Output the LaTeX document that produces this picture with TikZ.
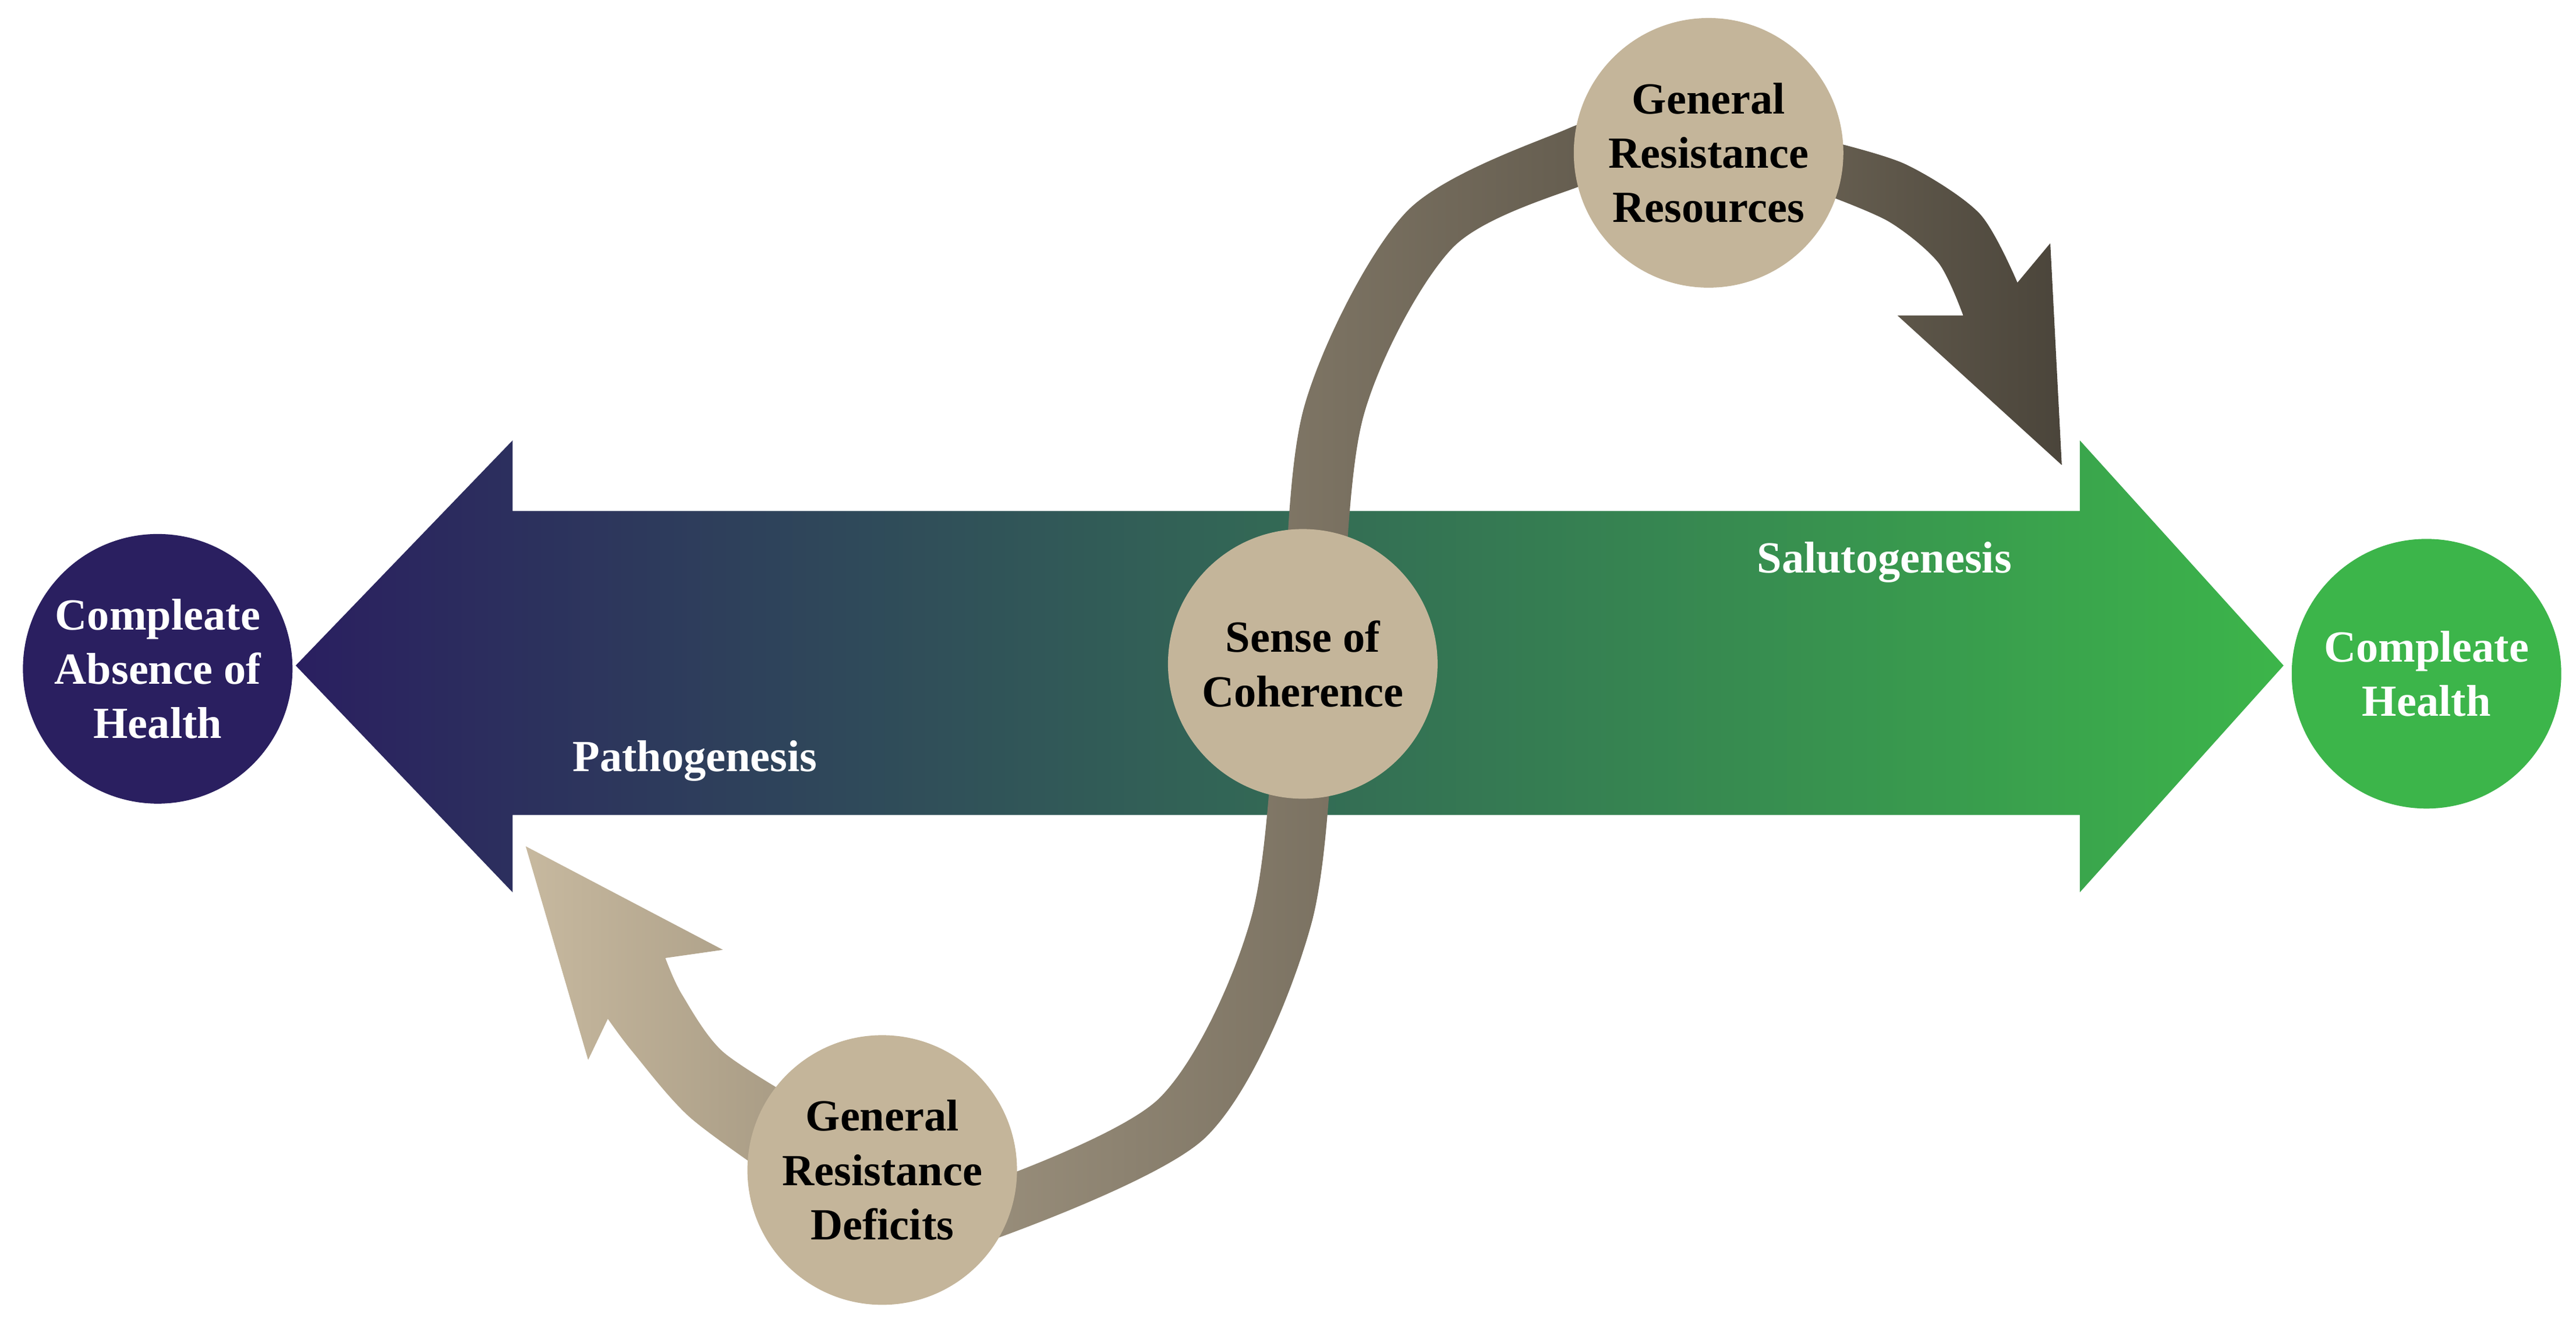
\documentclass[tikz,border=0pt]{standalone}
\usepackage{fontspec}
\setmainfont{Liberation Serif}
\begin{document}
\begin{tikzpicture}[x=0.01cm,y=-0.01cm,
  circ/.style={circle,minimum size=1.64cm,inner sep=0pt,align=center,font=\bfseries\fontsize{7.7}{9.4}\selectfont},
  tan/.style={circ,fill=tanc,text=black},
  lab/.style={text=white,font=\bfseries\fontsize{7.7}{9.4}\selectfont}]
\definecolor{navy}{HTML}{2A1F60}
\definecolor{teal}{HTML}{266262}
\definecolor{grn}{HTML}{3CB54A}
\definecolor{tanc}{HTML}{C4B59A}
\useasboundingbox (0,0) rectangle (1568,802);
% main double arrow
\shade[left color=navy,middle color=teal,right color=grn]
  (180,405) -- (312,268) -- (312,311) -- (1266,311) -- (1266,268) -- (1390,405)
  -- (1266,543) -- (1266,496) -- (312,496) -- (312,543) -- cycle;
% S band
\shade[left color=tanc!75!black!95,right color=tanc!50!black]
  plot[smooth] coordinates {(600,720) (706,668) (762,557) (779,399) (794,247) (856,129) (955,78) (985,72)}
  -- plot[smooth] coordinates {(985,108) (965,112) (884,151) (830,253) (815,401) (798,563) (734,692) (600,756)} -- cycle;
% right band + head
\shade[left color=tanc!52!black,right color=tanc!38!black]
  plot[smooth] coordinates {(1110,85) (1160,100) (1205,130) (1228,172)}
  -- (1248,148) -- (1255,283) -- (1155,192) -- (1195,192)
  -- plot[smooth] coordinates {(1195,192) (1180,160) (1150,135) (1110,118)} -- cycle;
% lower-left band + head
\shade[left color=tanc!95!white,right color=tanc!85!black]
  plot[smooth] coordinates {(490,672) (440,640) (415,605) (405,583)}
  -- (440,578) -- (320,515) -- (358,645) -- (370,620)
  -- plot[smooth] coordinates {(370,620) (385,640) (420,680) (475,720)} -- cycle;
% circles
\node[circ,fill=navy,text=white] (absence) at (96,407) {Compleate\\Absence of\\Health};
\node[circ,fill=grn,text=white] (health) at (1477,410) {Compleate\\Health};
\node[tan] (soc) at (793,404) {Sense of\\Coherence};
\node[tan] (grr) at (1040,93) {General\\Resistance\\Resources};
\node[tan] (grd) at (537,712) {General\\Resistance\\Deficits};
\node[lab] (salu) at (1147,342) {Salutogenesis};
\node[lab] (patho) at (423,463) {Pathogenesis};
\end{tikzpicture}
\end{document}
